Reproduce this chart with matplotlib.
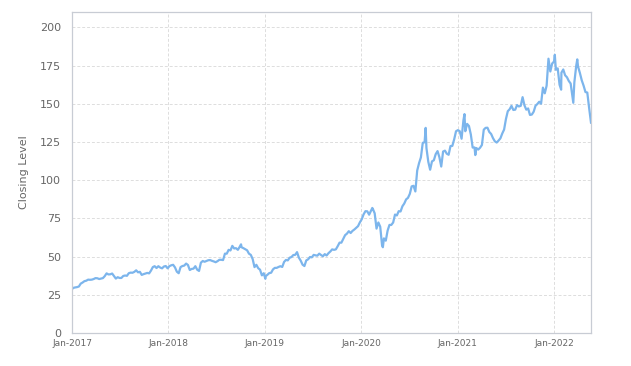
import pandas as pd
import matplotlib
matplotlib.use("Agg")
import matplotlib.pyplot as plt
import matplotlib.dates as mdates

# Weekly (Friday) closing levels
close_2017 = [29.5, 29.8, 30.0, 30.4, 32.3, 33.0, 33.9, 34.2, 34.9, 34.8, 34.9, 35.3, 35.9,
              35.8, 35.3, 35.6, 35.9, 37.2, 39.0, 38.3, 38.4, 38.9, 37.2, 35.6, 36.5, 36.0,
              36.0, 37.3, 37.6, 37.4, 39.1, 39.5, 39.4, 40.0, 41.0, 39.7, 40.0, 38.0, 38.5,
              38.9, 39.3, 39.0, 40.8, 43.1, 43.7, 42.5, 43.7, 42.8, 42.3, 43.5, 43.8, 42.3]
close_2018 = [43.75, 44.3, 44.6, 42.9, 40.1, 39.1, 43.1, 43.8, 44.1, 45.4, 44.5, 41.2, 41.9,
              42.1, 43.7, 41.4, 40.6, 46.0, 47.1, 46.6, 47.1, 47.6, 47.7, 47.2, 46.8, 46.3,
              47.0, 47.9, 47.9, 47.7, 51.9, 51.9, 54.4, 54.0, 57.0, 55.3, 55.5, 54.4, 56.4,
              56.1, 55.5, 54.8, 54.1, 51.9, 51.1, 48.4, 43.1, 44.6, 42.4, 41.4, 37.7, 39.1]
close_2019 = [37.1, 38.1, 39.2, 39.4, 41.6, 42.6, 42.6, 43.2, 43.7, 43.2, 46.5, 47.8, 47.5,
              49.25, 49.7, 51.0, 51.1, 52.9, 49.3, 47.3, 44.7, 43.8, 47.5, 48.2, 49.7, 49.5,
              51.1, 50.8, 50.6, 51.9, 51.0, 50.2, 51.6, 50.7, 52.2, 53.3, 54.7, 54.4, 54.7,
              56.8, 59.1, 59.1, 61.6, 64.0, 65.0, 66.6, 65.4, 66.8, 67.7, 68.8, 69.9, 72.4]
close_2020 = [74.4, 77.6, 79.7, 79.6, 77.4, 80.0, 81.2, 78.3, 68.3, 72.3, 69.5, 57.3, 61.9,
              60.4, 67.0, 70.7, 70.7, 72.3, 77.5, 76.9, 79.7, 79.5, 82.9, 84.7, 87.4, 88.4,
              91.0, 95.9, 96.3, 92.6, 106.3, 111.1, 114.9, 124.4, 124.8, 121.0, 112.0, 106.8,
              112.3, 113.0, 117.0, 119.0, 115.0, 108.9, 118.7, 119.3, 117.3, 116.6, 122.3,
              122.4, 126.7, 132.0]
close_2021 = [132.7, 132.05, 127.1, 139.1, 132.0, 136.8, 135.4, 129.9, 121.3, 121.4, 121.0,
              120.0, 121.2, 123.0, 133.0, 134.2, 134.3, 131.5, 130.2, 127.45, 125.4, 124.6,
              125.9, 127.35, 130.5, 133.1, 140.0, 145.1, 146.4, 148.6, 145.9, 146.1, 149.1,
              148.2, 148.6, 154.3, 149.0, 146.1, 146.9, 142.65, 142.9, 144.8, 148.7, 149.8,
              151.3, 150.0, 160.55, 156.8, 161.8, 179.45, 171.1, 176.3, 177.6]
close_2022 = [172.2, 173.1, 162.4, 170.3, 172.4, 168.6, 167.3, 164.85, 163.2, 154.7, 164.0,
              174.7, 174.3, 170.1, 165.3, 161.8, 157.65, 157.3, 147.1, 137.6]

# Daily highs/lows visible as spikes between the weekly points
spike_dates = ["2017-01-03", "2018-10-03", "2019-01-03", "2020-02-12", "2020-03-23",
               "2020-09-01", "2021-01-26", "2021-03-08", "2022-01-03", "2022-01-27",
               "2022-03-14", "2022-03-29"]
spike_values = [29.0, 58.0, 35.5, 81.8, 56.1, 134.2, 143.2, 116.4, 182.0, 159.2, 150.6, 179.0]

weekly = close_2017 + close_2018 + close_2019 + close_2020 + close_2021 + close_2022
weeks = pd.date_range("2017-01-06", "2022-05-20", freq="W-FRI")
series = pd.concat([
    pd.Series(weekly, index=weeks),
    pd.Series(spike_values, index=pd.to_datetime(spike_dates)),
]).sort_index()

fig = plt.figure(figsize=(6.31, 3.66), dpi=100)
ax = fig.add_axes([0.1141, 0.0902, 0.8225, 0.877])

ax.plot(series.index, series.values, color="#7cb5ec", linewidth=1.6)

ax.set_ylim(0, 210)
ax.set_yticks(range(0, 201, 25))
ax.set_xlim(pd.Timestamp("2017-01-01"), pd.Timestamp("2022-05-20"))
ax.xaxis.set_major_locator(mdates.YearLocator())
ax.xaxis.set_major_formatter(mdates.DateFormatter("%b-%Y"))

ax.grid(True, color="#dddddd", linestyle=(0, (3, 2)), linewidth=0.7)
ax.set_axisbelow(True)
for spine in ax.spines.values():
    spine.set_color("#c8ccd4")
    spine.set_linewidth(0.9)
ax.tick_params(axis="both", length=0, colors="#666666")
ax.tick_params(axis="y", labelsize=8, pad=8)
ax.tick_params(axis="x", labelsize=6.5, pad=4)
ax.set_ylabel("Closing Level", fontsize=8, color="#666666", labelpad=8)

plt.savefig("out.png", dpi=100)
